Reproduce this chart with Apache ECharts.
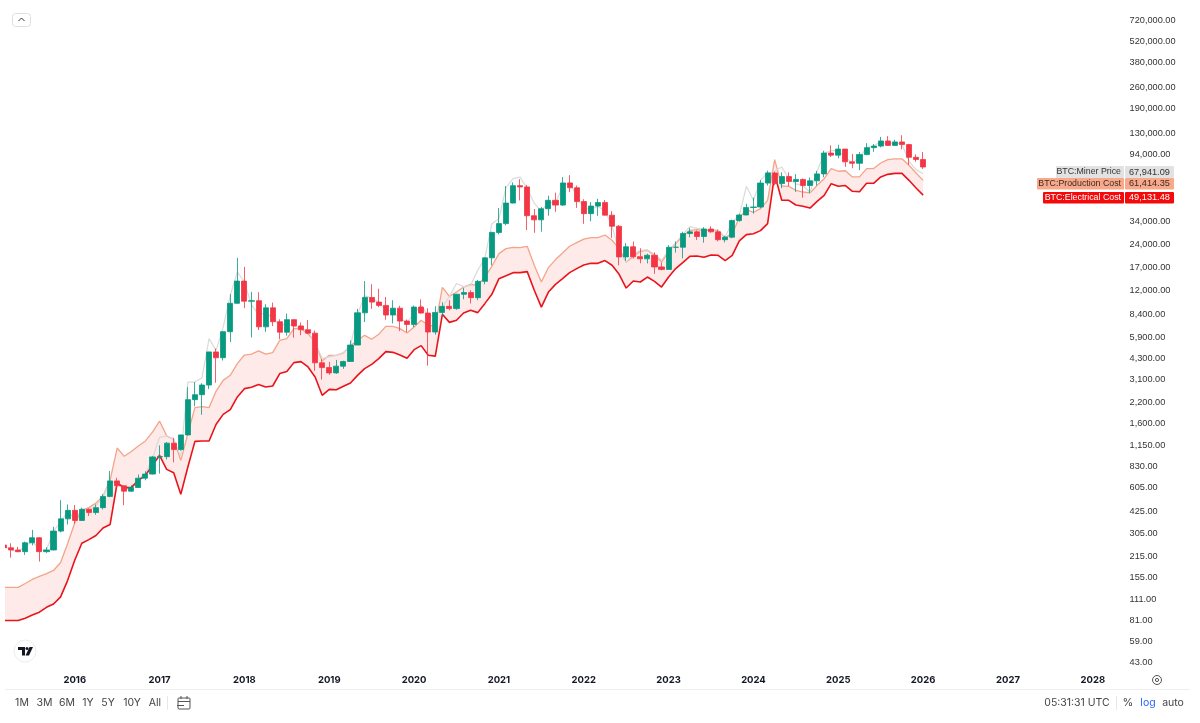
<!DOCTYPE html>
<html>
<head>
<meta charset="utf-8">
<title>BTC miner cost</title>
<script src="https://cdn.jsdelivr.net/npm/echarts@6/dist/echarts.min.js"></script>
<style>
html, body { margin: 0; padding: 0; background: #fff; }
#main { width: 1200px; height: 723px; }
</style>
</head>
<body>
<div id="main"></div>
<script>
// monthly bars, first one is 2015-03
var open = [
    254,244,236,230,263,284,230,236,314,378,
    430,369,437,416,448,531,672,624,575,608,700,745,
    966,970,1190,1080,1348,2300,2480,2870,4740,4340,6440,9900,
    13860,10220,10300,6930,9240,7490,6390,7730,7030,6630,6300,4020,
    3740,3450,3820,4100,5260,8570,10820,10080,9590,8290,9190,7560,
    7190,9350,8540,6410,8620,9450,9140,11350,11650,10780,13800,19700,
    28950,33100,45200,58800,57700,37300,35040,41460,47100,43820,61300,57000,
    46200,38500,43200,45500,37630,31800,19980,23300,20050,19420,20500,17170,
    16540,23130,23140,28480,29230,27220,30470,29230,25940,26960,34650,37720,
    42280,42580,61170,71330,60670,67500,62680,64620,58980,63300,70300,96400,
    93400,102400,84350,82550,94200,104600,107150,115750,108250,114050,109600,90400,
    87500
];
var close = [
    244,236,230,263,284,230,236,314,378,430,
    369,437,416,448,531,672,624,575,608,700,745,966,
    970,1190,1080,1348,2300,2480,2870,4740,4340,6440,9900,13860,
    10220,10300,6930,9240,7490,6390,7730,7030,6630,6300,4020,3740,
    3450,3820,4100,5260,8570,10820,10080,9590,8290,9190,7560,7190,
    9350,8540,6410,8620,9450,9140,11350,11650,10780,13800,19700,28950,
    33100,45200,58800,57700,37300,35040,41460,47100,43820,61300,57000,46200,
    38500,43200,45500,37630,31800,19980,23300,20050,19420,20500,17170,16540,
    23130,23140,28480,29230,27220,30470,29230,25940,26960,34650,37720,42280,
    42580,61170,71330,60670,67500,62680,64620,58980,63300,70300,96400,93400,
    102400,84350,82550,94200,104600,107150,115750,108250,114050,109600,90400,87500,
    78000
];
var low = [
    240,210,228,219,253,198,225,235,308,347,
    351,366,395,402,436,525,610,465,570,603,678,740,
    750,930,890,1060,1340,2080,1830,2700,2970,4160,5500,10700,
    9200,5900,6600,6430,7000,5750,6070,5880,6100,6200,3560,3120,
    3350,3400,3670,4100,5350,7450,9100,9320,7710,7300,6500,6400,
    6900,8450,3850,6150,8130,8900,8970,10530,9880,10370,13200,17600,
    28130,32300,44950,47000,30000,28800,29300,37300,39600,43300,53300,42000,
    33000,34300,37200,37700,26700,17600,18800,19500,18150,18100,15480,16300,
    16490,21350,19570,26900,25800,24800,28860,25300,24900,26540,34100,37600,
    38500,41880,59000,59200,56550,58400,53500,49000,52500,58900,66800,90700,
    89100,78200,76600,74400,93300,98200,105000,107300,107300,102000,80600,84400,
    75700
];
var high = [
    300,261,247,268,320,287,246,335,502,470,
    466,448,443,470,550,780,704,625,630,740,778,980,
    1150,1210,1290,1350,2780,3000,2950,4480,4980,6470,11400,19700,
    17200,11780,11700,9760,10000,7770,8480,7750,7400,7680,6550,4240,
    4070,4200,4150,5640,9090,13880,13200,12340,10900,10370,9530,7750,
    9570,10500,9180,9460,10070,10380,11430,12480,12060,14100,19860,29300,
    41950,58350,61780,64850,59500,41300,42600,50500,52900,67000,69000,59000,
    47900,45800,48200,47400,40000,32400,24600,25200,22800,20990,21400,18370,
    23900,25250,29200,31000,29800,31400,31800,30200,27500,35200,38400,44700,
    48970,64000,73800,72800,71980,71950,70000,65600,66500,73600,99800,108300,
    109100,102500,95000,97900,112000,110500,123200,124500,117900,126200,110700,94500,
    97900
];
var minerPrice = [
    250,236,230,250,270,235,236,314,360,420,
    380,430,430,460,530,670,650,580,610,690,750,950,
    1300,1330,1260,975,3000,3000,3210,5795,4856,6907,11170,15900,
    13669,9660,8370,8500,8000,7000,7300,7000,6800,6500,5400,4300,
    4400,4500,4700,5200,8370,11070,10700,10000,9000,8800,7800,7400,
    8500,9600,8200,8300,9300,11000,13350,12750,13000,16325,19480,33080,
    35700,57200,65400,66900,56230,45000,40000,46000,45000,58000,62000,50000,
    42000,41000,43000,40000,32000,21500,18500,21000,22000,22300,20800,19000,
    22000,24800,28000,31600,30800,30500,30200,30000,27000,33930,37550,58240,
    47120,63760,71290,73170,78000,65400,60500,59000,53000,73170,95500,100000,
    100000,90000,83000,90000,105000,107000,115000,110000,113000,110000,85000,75000,
    70500
];
var productionCost = [
    134,134,134,142,151,158,165,173,195,260,
    355,430,448,480,534,677,1105,975,1050,1140,1230,1408,
    1663,1330,1260,917,1374,2038,2070,2040,2620,3081,3324,3967,
    4521,4590,4820,4590,4690,5653,5795,6741,6741,6250,5506,4128,
    4501,4501,4670,5216,5653,6093,5740,6186,6980,6980,6741,6306,
    6907,7652,7093,7000,12612,11000,11740,12664,13193,12995,14734,17340,
    21000,22660,23107,23000,23480,17606,13669,17009,19197,21200,23480,24820,
    26200,26775,26775,27855,25716,22660,18423,20168,21750,22090,20477,18490,
    21750,24463,27305,29890,30220,29890,29890,29890,26775,28430,36235,40900,
    39300,41560,47120,87200,58530,58240,54850,53420,52650,59120,65400,76130,
    73170,73700,67120,67120,76200,76200,82870,87200,88350,88350,80060,71290,
    63700
];
var electricalCost = [
    81,81,81,84,88,92,99,104,116,149,
    202,261,276,294,329,347,651,607,607,677,731,850,
    990,800,759,548,830,1223,1230,1230,1584,1840,1976,2395,
    2717,2773,2890,2784,2828,3414,3519,4030,4090,3773,3243,2456,
    2688,2670,2815,2961,3324,3681,3928,4283,4760,4710,4521,4302,
    4905,5216,4501,4450,8377,7414,7652,8543,8895,8595,9848,11342,
    14380,15043,15750,15750,15990,12055,9350,11740,13193,14380,15750,16745,
    17672,18136,18136,18910,17606,15352,12478,13876,13669,14734,13803,12664,
    14734,16745,18335,20168,20257,19860,20566,20477,18910,20477,25449,28030,
    28400,29770,33120,69800,47120,47120,43870,43020,41890,46400,50830,60640,
    58240,58900,53980,53600,60960,60960,67120,69800,70850,70850,63760,56770,
    51000
];
var tickValues = [720000,520000,380000,260000,190000,130000,94000,34000,24000,17000,12000,8400,5900,4300,
    3100,2200,1600,1150,830,605,425,305,215,155,111,81,59,43];
var rangeButtons = ['1M','3M','6M','1Y','5Y','10Y','All'];
var tagNames = ['BTC:Miner Price','BTC:Production Cost','BTC:Electrical Cost'];
var tagValues = ['67,941.09','61,414.35','49,131.48'];

// axis runs on to spring 2028, the future months just stay empty
var months = [];
for (var m = 0; m < 158; m++) {
    var total = 2015 * 12 + 2 + m;
    var mm = total % 12 + 1;
    months.push(Math.floor(total / 12) + '-' + (mm < 10 ? '0' + mm : mm));
}

var candles = [];
var band = [];
open.forEach(function(o, i) {
    candles.push([o, close[i], low[i], high[i]]);
    band.push(productionCost[i] - electricalCost[i]);
});

var textFont = 'Inter, "Noto Sans", sans-serif';
var priceFont = '"Liberation Sans", Arial, sans-serif';
var graphics = [];

function addText(x, y, text, color, size, align, weight, family) {
    graphics.push({
        type: 'text', x: x, y: y, silent: true, z: 110,
        style: { text: text, fill: color, font: (weight || 'normal') + ' ' + size + 'px ' + (family || textFont), textAlign: align || 'center', textVerticalAlign: 'middle' }
    });
}
function addRect(x, y, w, h, fill, stroke, r) {
    graphics.push({
        type: 'rect', silent: true, z: 100,
        shape: { x: x, y: y, width: w, height: h, r: r || 0 },
        style: { fill: fill, stroke: stroke || null, lineWidth: 1 }
    });
}
function addLine(x1, y1, x2, y2, color, lw) {
    graphics.push({
        type: 'line', silent: true, z: 100,
        shape: { x1: x1, y1: y1, x2: x2, y2: y2 },
        style: { stroke: color, lineWidth: lw || 1 }
    });
}

// chart area starts a few px in from the window edge
addRect(0, 0, 5, 669, '#fff');

// last value tags
var tagRows = [
    { left: 1056, top: 166, h: 12, fill: '#e2e2e2', text: '#333' },
    { left: 1037, top: 178, h: 11.5, fill: '#f9a98b', text: '#3a2a22' },
    { left: 1043, top: 192, h: 11.5, fill: '#f40a0a', text: '#fff' }
];
tagRows.forEach(function(t, i) {
    addRect(t.left, t.top, 1124 - t.left, t.h, t.fill, null, 1);
    addRect(1125, t.top, 49, t.h, t.fill, null, 1);
    addText(1121, t.top + t.h / 2, tagNames[i], t.text, 8.8, 'right', null, priceFont);
    addText(1129, t.top + t.h / 2, tagValues[i], t.text, 9.2, 'left', null, priceFont);
});

// bottom toolbar
var buttonX = [22, 44.5, 67, 88, 108, 132, 155];
rangeButtons.forEach(function(b, i) { addText(buttonX[i], 703, b, '#444', 10.5); });
addLine(5, 689.5, 1190, 689.5, '#efefef');
addLine(167.5, 696, 167.5, 710, '#e8e8e8');
addLine(1116.5, 696, 1116.5, 710, '#e8e8e8');
addText(1077, 703, '05:31:31 UTC', '#444', 10.5);
addText(1128, 703, '%', '#444', 11);
addText(1148, 703, 'log', '#2962ff', 10.5);
addText(1173, 703, 'auto', '#444', 10.5);

// calendar icon
addRect(178, 698, 12, 11, null, '#555', 1);
addLine(178, 701.5, 190, 701.5, '#555');
addLine(181, 696, 181, 699, '#555');
addLine(187, 696, 187, 699, '#555');
addLine(177, 705.5, 184, 705.5, '#555');

// settings icon
graphics.push({ type: 'circle', silent: true, shape: { cx: 1157, cy: 680, r: 4.5 }, style: { fill: null, stroke: '#555', lineWidth: 1 } });
graphics.push({ type: 'circle', silent: true, shape: { cx: 1157, cy: 680, r: 1.6 }, style: { fill: null, stroke: '#555', lineWidth: 1 } });

// collapse button top left
addRect(12.5, 13.5, 18, 13, '#fff', '#e0e0e0', 3);
graphics.push({ type: 'polyline', silent: true, z: 110, shape: { points: [[18.5, 21], [21.5, 18], [24.5, 21]] }, style: { fill: null, stroke: '#333', lineWidth: 1 } });

// logo badge
graphics.push({ type: 'circle', silent: true, shape: { cx: 25, cy: 651, r: 11 }, style: { fill: '#fff', stroke: '#ececec', lineWidth: 1 } });
graphics.push({ type: 'polygon', silent: true, shape: { points: [[18, 647], [25, 647], [25, 655.5], [22, 655.5], [22, 650], [18, 650]] }, style: { fill: '#131722' } });
graphics.push({ type: 'circle', silent: true, shape: { cx: 27, cy: 648.5, r: 1.5 }, style: { fill: '#131722' } });
graphics.push({ type: 'polygon', silent: true, shape: { points: [[29.5, 647], [33, 647], [29, 655.5], [25.5, 655.5]] }, style: { fill: '#131722' } });

var chart = echarts.init(document.getElementById('main'), null, { renderer: 'canvas' });
var option = {
    animation: false,
    backgroundColor: '#fff',
    textStyle: { fontFamily: textFont },
    grid: { left: 0.5, top: 0.3, width: 1117.06, height: 668 },
    xAxis: {
        type: 'category',
        data: months,
        boundaryGap: true,
        axisLine: { show: false },
        axisTick: { show: false },
        splitLine: { show: false },
        axisLabel: {
            margin: 6.5,
            interval: function(i) { return i % 12 === 10; },
            formatter: function(v) { return v.slice(0, 4); },
            color: '#131722',
            fontSize: 9.5,
            fontWeight: 'bold',
            fontFamily: textFont
        }
    },
    yAxis: {
        type: 'log',
        position: 'right',
        min: 39.3,
        max: 974800,
        axisLine: { show: false },
        axisTick: { show: false },
        splitLine: { show: false },
        axisLabel: {
            margin: 12,
            customValues: tickValues,
            color: '#333',
            fontSize: 9.2,
            fontFamily: priceFont,
            formatter: function(v) {
                return Number(v).toLocaleString('en-US', { minimumFractionDigits: 2, maximumFractionDigits: 2 });
            }
        }
    },
    series: [
        {
            name: 'Electrical Cost',
            type: 'line',
            stack: 'cost',
            data: electricalCost,
            showSymbol: false,
            z: 3,
            lineStyle: { color: '#e9141b', width: 1.6 }
        },
        {
            name: 'Production Cost',
            type: 'line',
            stack: 'cost',
            data: band,
            showSymbol: false,
            z: 2,
            lineStyle: { color: '#f4a488', width: 1.3 },
            areaStyle: { color: 'rgba(246, 80, 70, 0.17)', origin: 'auto' }
        },
        {
            name: 'Miner Price',
            type: 'line',
            data: minerPrice,
            showSymbol: false,
            z: 2,
            lineStyle: { color: '#dadada', width: 1.2 }
        },
        {
            name: 'BTC',
            type: 'candlestick',
            data: candles,
            barWidth: 5.6,
            z: 5,
            itemStyle: {
                color: '#089981',
                color0: '#f23645',
                borderColor: '#089981',
                borderColor0: '#f23645',
                borderWidth: 0.8
            }
        }
    ],
    graphic: { elements: graphics }
};
chart.setOption(option);
</script>
</body>
</html>
